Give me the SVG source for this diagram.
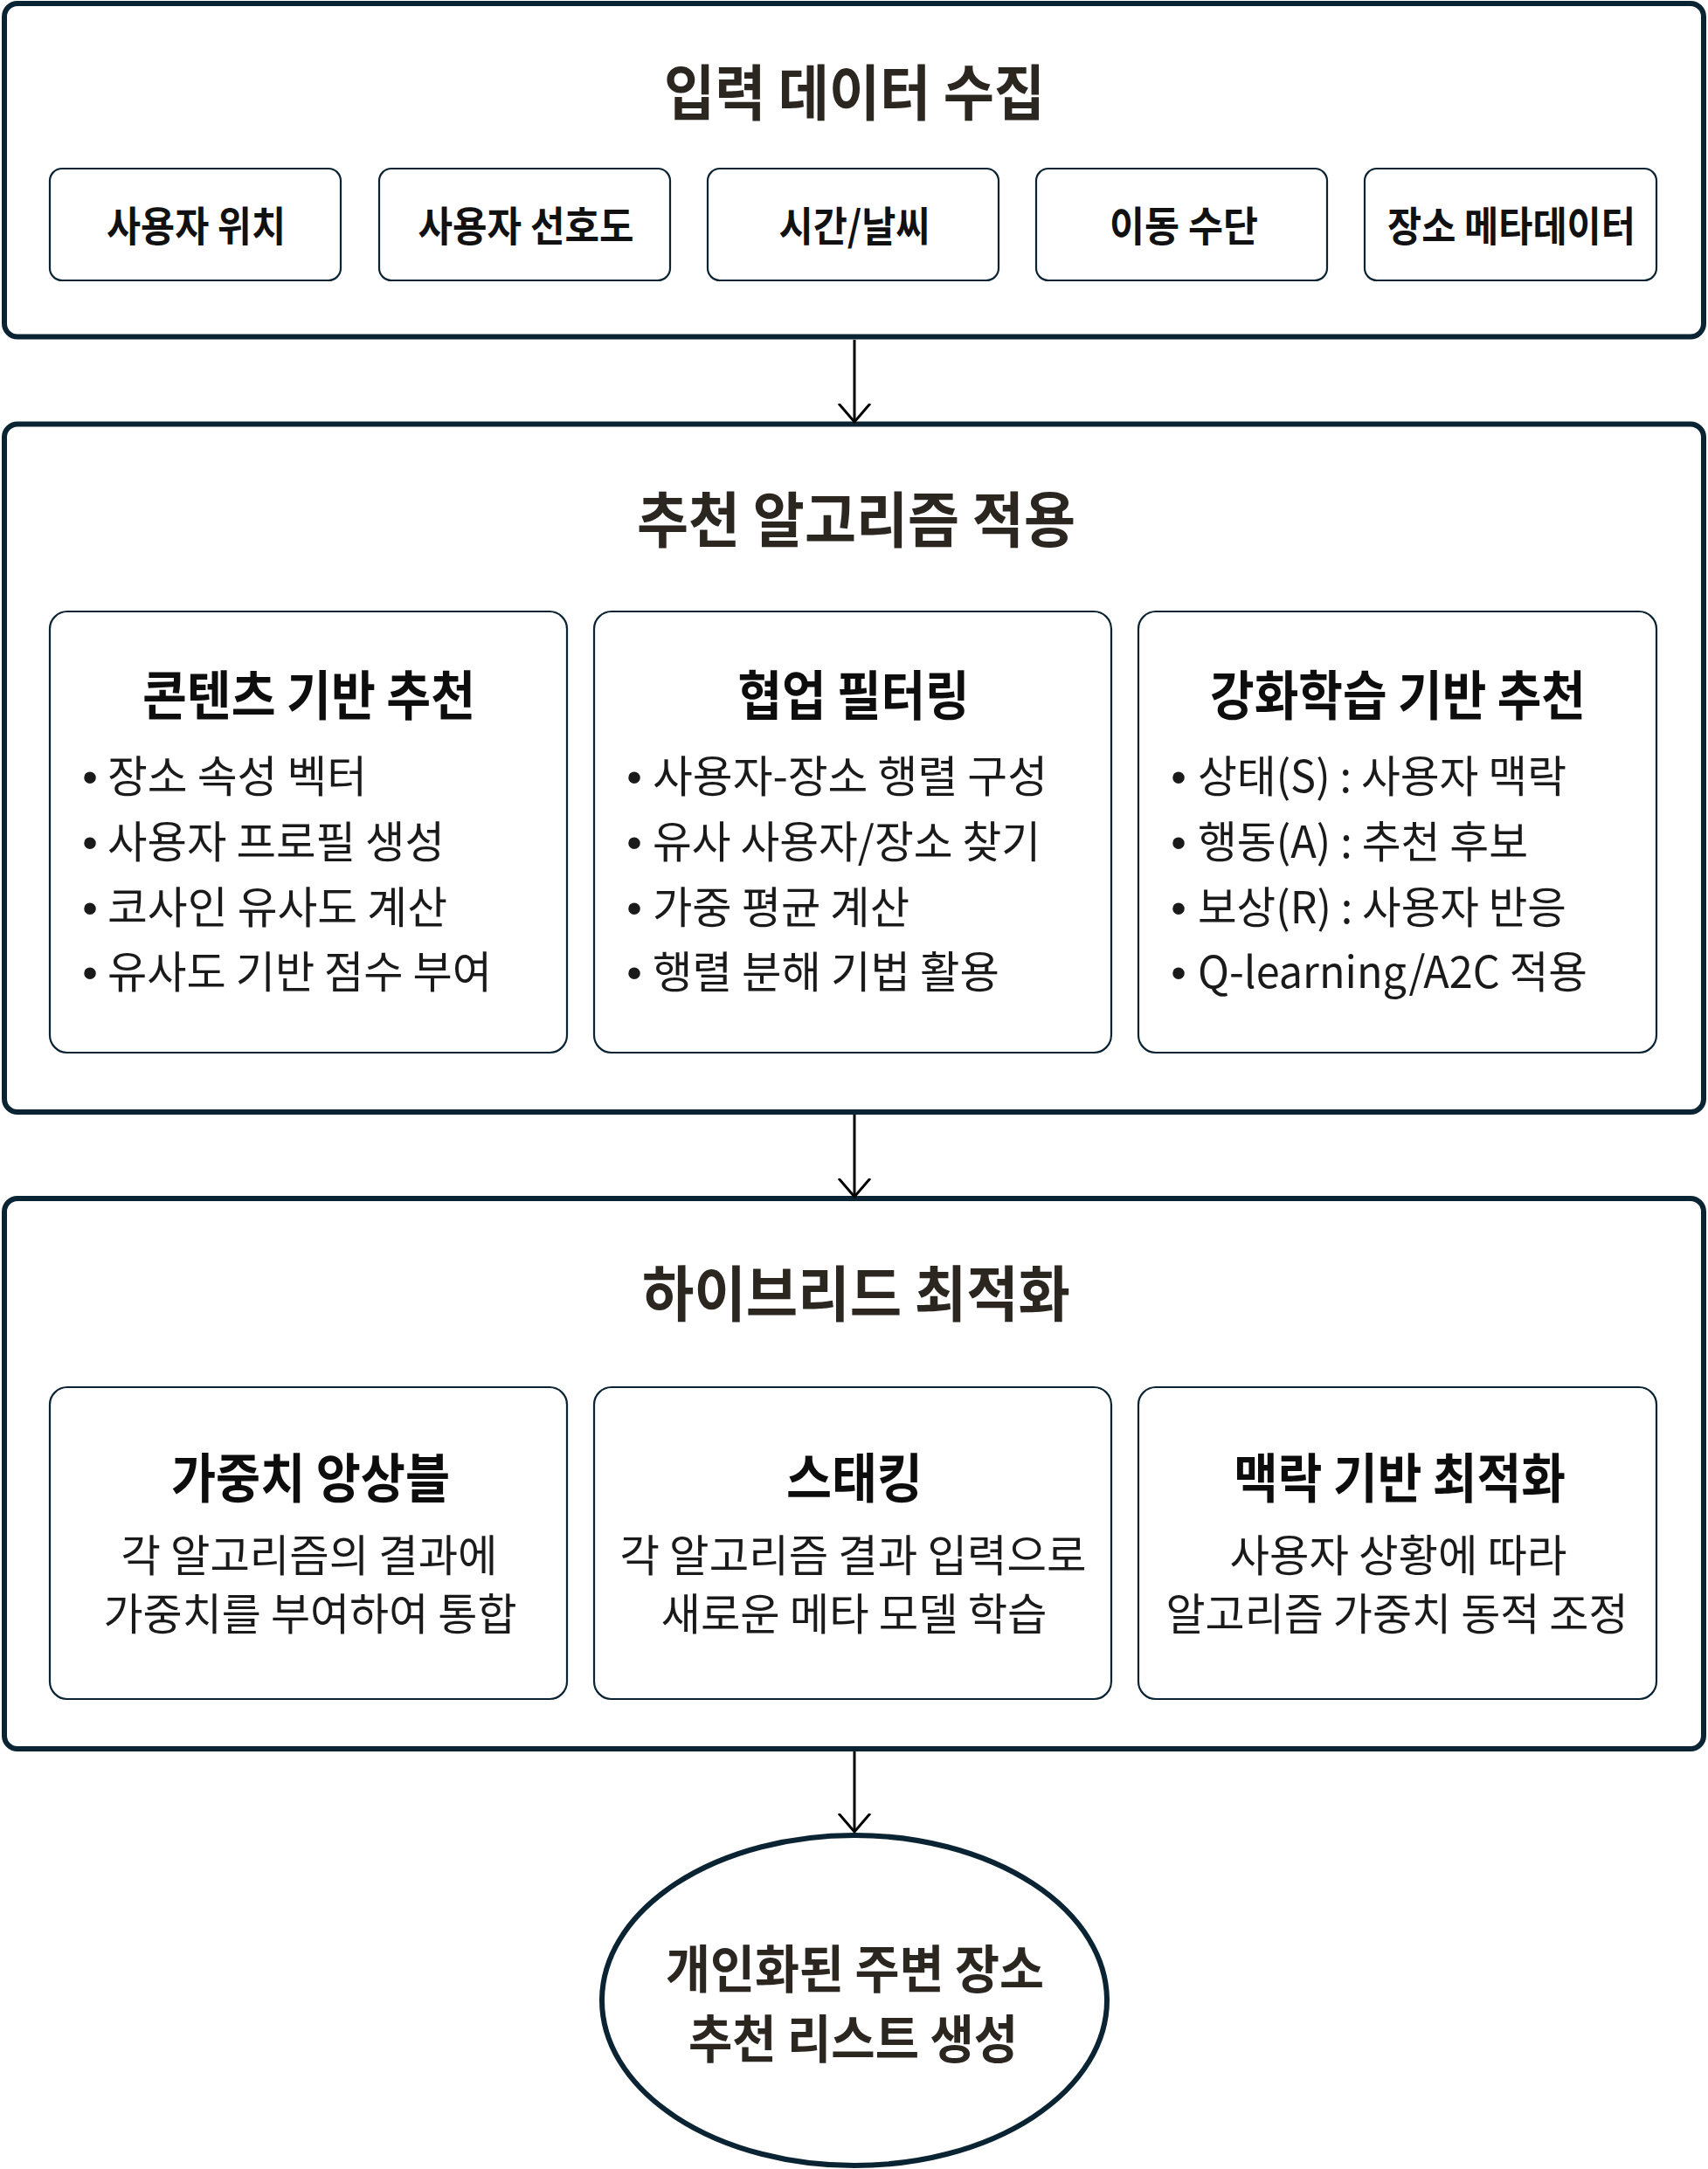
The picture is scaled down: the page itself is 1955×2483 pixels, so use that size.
<svg xmlns="http://www.w3.org/2000/svg" width="1955" height="2483" viewBox="0 0 1955 2483">
<style>
.sec{fill:#ffffff;stroke:#0b2433;stroke-width:6}
.box{fill:#ffffff;stroke:#0b2433;stroke-width:2.2}
.t{font-family:"Noto Sans CJK KR","Noto Sans",sans-serif}
.st{font-size:69px;font-weight:700;fill:#2b2620;text-anchor:middle}
.sb{font-size:47px;font-weight:700;fill:#111111;text-anchor:middle}
.it{font-size:61px;font-weight:700;fill:#0d0d0d;text-anchor:middle}
.bd{font-size:50px;font-weight:400;fill:#1a1a1a}
.bc{font-size:50px;font-weight:400;fill:#1a1a1a;text-anchor:middle}
.bul{font-family:"Liberation Sans",sans-serif;font-size:50px;fill:#1a1a1a;text-anchor:middle}
.et{font-size:59px;font-weight:700;fill:#2b2620;text-anchor:middle}
.con{stroke:#000000;stroke-width:3;fill:none}
</style>
<defs>
<marker id="arr" markerUnits="userSpaceOnUse" markerWidth="40" markerHeight="40" viewBox="0 0 40 40" refX="21" refY="20" orient="auto">
<path d="M0,2 L21,20 L0,38" fill="none" stroke="#000000" stroke-width="3"/>
</marker>
</defs>

<g id="sec-input">
<rect class="sec" x="5" y="4" width="1945" height="381.5" rx="15"/>
<text class="t st" x="978" y="132" textLength="436" lengthAdjust="spacingAndGlyphs">입력 데이터 수집</text>
</g>
<g id="n-user-location">
<rect class="box" x="57" y="193" width="333" height="128" rx="14"/>
<text class="t sb" x="224.5" y="276" textLength="205" lengthAdjust="spacingAndGlyphs">사용자 위치</text>
</g>
<g id="n-user-pref">
<rect class="box" x="434" y="193" width="333" height="128" rx="14"/>
<text class="t sb" x="602" y="276" textLength="247" lengthAdjust="spacingAndGlyphs">사용자 선호도</text>
</g>
<g id="n-time-weather">
<rect class="box" x="810" y="193" width="333" height="128" rx="14"/>
<text class="t sb" x="978" y="276" textLength="173" lengthAdjust="spacingAndGlyphs">시간/날씨</text>
</g>
<g id="n-transport">
<rect class="box" x="1186" y="193" width="333" height="128" rx="14"/>
<text class="t sb" x="1355" y="276" textLength="170" lengthAdjust="spacingAndGlyphs">이동 수단</text>
</g>
<g id="n-place-meta">
<rect class="box" x="1562" y="193" width="334" height="128" rx="14"/>
<text class="t sb" x="1730" y="276" textLength="284" lengthAdjust="spacingAndGlyphs">장소 메타데이터</text>
</g>

<g id="sec-algorithms">
<rect class="sec" x="5" y="485.5" width="1945" height="787.5" rx="15"/>
<text class="t st" x="980" y="621" textLength="502" lengthAdjust="spacingAndGlyphs">추천 알고리즘 적용</text>
</g>
<g id="n-content-based">
<rect class="box" x="57" y="700" width="592" height="505" rx="20"/>
<text class="t it" x="353.5" y="819" textLength="381" lengthAdjust="spacingAndGlyphs">콘텐츠 기반 추천</text>
<text class="bul" x="103" y="907">•</text>
<text class="t bd" x="123" y="907" textLength="297" lengthAdjust="spacingAndGlyphs">장소 속성 벡터</text>
<text class="bul" x="103" y="982">•</text>
<text class="t bd" x="123" y="982" textLength="386" lengthAdjust="spacingAndGlyphs">사용자 프로필 생성</text>
<text class="bul" x="103" y="1057">•</text>
<text class="t bd" x="123" y="1057" textLength="389" lengthAdjust="spacingAndGlyphs">코사인 유사도 계산</text>
<text class="bul" x="103" y="1131">•</text>
<text class="t bd" x="123" y="1131" textLength="440" lengthAdjust="spacingAndGlyphs">유사도 기반 점수 부여</text>
</g>
<g id="n-collaborative">
<rect class="box" x="680" y="700" width="592" height="505" rx="20"/>
<text class="t it" x="977" y="819" textLength="265" lengthAdjust="spacingAndGlyphs">협업 필터링</text>
<text class="bul" x="726" y="907">•</text>
<text class="t bd" x="747" y="907" textLength="452" lengthAdjust="spacingAndGlyphs">사용자-장소 행렬 구성</text>
<text class="bul" x="726" y="982">•</text>
<text class="t bd" x="747" y="982" textLength="444" lengthAdjust="spacingAndGlyphs">유사 사용자/장소 찾기</text>
<text class="bul" x="726" y="1057">•</text>
<text class="t bd" x="747" y="1057" textLength="294" lengthAdjust="spacingAndGlyphs">가중 평균 계산</text>
<text class="bul" x="726" y="1131">•</text>
<text class="t bd" x="747" y="1131" textLength="397" lengthAdjust="spacingAndGlyphs">행렬 분해 기법 활용</text>
</g>
<g id="n-reinforcement">
<rect class="box" x="1303" y="700" width="593" height="505" rx="20"/>
<text class="t it" x="1600" y="819" textLength="430" lengthAdjust="spacingAndGlyphs">강화학습 기반 추천</text>
<text class="bul" x="1349" y="907">•</text>
<text class="t bd" x="1371" y="907" textLength="422" lengthAdjust="spacingAndGlyphs">상태(S) : 사용자 맥락</text>
<text class="bul" x="1349" y="982">•</text>
<text class="t bd" x="1371" y="982" textLength="378" lengthAdjust="spacingAndGlyphs">행동(A) : 추천 후보</text>
<text class="bul" x="1349" y="1057">•</text>
<text class="t bd" x="1371" y="1057" textLength="422" lengthAdjust="spacingAndGlyphs">보상(R) : 사용자 반응</text>
<text class="bul" x="1349" y="1131">•</text>
<text class="t bd" x="1371" y="1131" textLength="446" lengthAdjust="spacingAndGlyphs">Q-learning/A2C 적용</text>
</g>

<g id="sec-hybrid">
<rect class="sec" x="5" y="1372" width="1945" height="630" rx="15"/>
<text class="t st" x="980" y="1507" textLength="490" lengthAdjust="spacingAndGlyphs">하이브리드 최적화</text>
</g>
<g id="n-weighted-ensemble">
<rect class="box" x="57" y="1588" width="592" height="357" rx="20"/>
<text class="t it" x="355.5" y="1715" textLength="319" lengthAdjust="spacingAndGlyphs">가중치 앙상블</text>
<text class="t bc"><tspan x="354" y="1799" textLength="431" lengthAdjust="spacingAndGlyphs">각 알고리즘의 결과에</tspan><tspan x="355" y="1866" textLength="473" lengthAdjust="spacingAndGlyphs">가중치를 부여하여 통합</tspan></text>
</g>
<g id="n-stacking">
<rect class="box" x="680" y="1588" width="592" height="357" rx="20"/>
<text class="t it" x="978" y="1715" textLength="156" lengthAdjust="spacingAndGlyphs">스태킹</text>
<text class="t bc"><tspan x="976.5" y="1799" textLength="534" lengthAdjust="spacingAndGlyphs">각 알고리즘 결과 입력으로</tspan><tspan x="977.5" y="1866" textLength="442" lengthAdjust="spacingAndGlyphs">새로운 메타 모델 학습</tspan></text>
</g>
<g id="n-context-opt">
<rect class="box" x="1303" y="1588" width="593" height="357" rx="20"/>
<text class="t it" x="1602" y="1715" textLength="380" lengthAdjust="spacingAndGlyphs">맥락 기반 최적화</text>
<text class="t bc"><tspan x="1600.5" y="1799" textLength="386" lengthAdjust="spacingAndGlyphs">사용자 상황에 따라</tspan><tspan x="1599" y="1866" textLength="529" lengthAdjust="spacingAndGlyphs">알고리즘 가중치 동적 조정</tspan></text>
</g>

<g id="n-result">
<ellipse cx="978" cy="2290" rx="289" ry="189" fill="#ffffff" stroke="#0b2433" stroke-width="6"/>
<text class="t et"><tspan x="978.5" y="2276" textLength="433" lengthAdjust="spacingAndGlyphs">개인화된 주변 장소</tspan><tspan x="976.5" y="2356" textLength="377" lengthAdjust="spacingAndGlyphs">추천 리스트 생성</tspan></text>
</g>

<g id="connectors">
<line class="con" x1="978" y1="389" x2="978" y2="483" marker-end="url(#arr)"/>
<line class="con" x1="978" y1="1276" x2="978" y2="1370" marker-end="url(#arr)"/>
<line class="con" x1="978" y1="2005" x2="978" y2="2097" marker-end="url(#arr)"/>
</g>
</svg>
